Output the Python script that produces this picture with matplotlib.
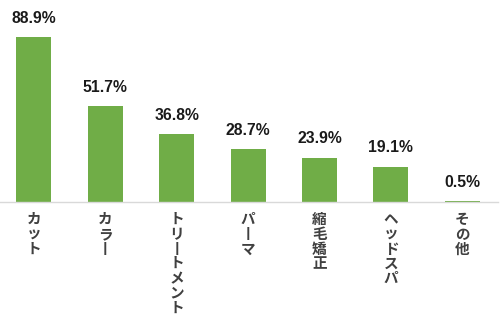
import matplotlib.pyplot as plt

categories = ["カット", "カラー", "トリートメント", "パーマ", "縮毛矯正", "ヘッドスパ", "その他"]
values = [88.9, 51.7, 36.8, 28.7, 23.9, 19.1, 0.5]

def vertical(s):
    # stack characters top to bottom, long vowel mark turned upright
    return "\n".join("丨" if c == "ー" else c for c in s)

fig = plt.figure(figsize=(5.0, 3.18), dpi=100)
ax = fig.add_axes([-0.004, 0.365, 1.0, 0.583])

x = range(len(values))
bars = ax.bar(x, values, width=0.49, color="#70AD47")

for b, v in zip(bars, values):
    ax.text(b.get_x() + b.get_width() / 2, v + 6, f"{v}%", ha="center", va="bottom",
            fontsize=11.3, fontweight="bold", color="#1a1a1a",
            family=["Liberation Sans", "DejaVu Sans"])

for i, c in enumerate(categories):
    ax.text(i, -5, vertical(c), ha="center", va="top", fontsize=10.5,
            fontweight="bold", color="#404040", linespacing=0.9,
            family=["Noto Sans CJK JP", "DejaVu Sans"])

ax.set_xlim(-0.5, len(values) - 0.5)
ax.set_ylim(0, 100)
ax.set_xticks([])
ax.set_yticks([])
for s in ["top", "right", "left"]:
    ax.spines[s].set_visible(False)
ax.spines["bottom"].set_color("#D9D9D9")
ax.spines["bottom"].set_linewidth(1.0)

fig.savefig("out.png", dpi=100)
